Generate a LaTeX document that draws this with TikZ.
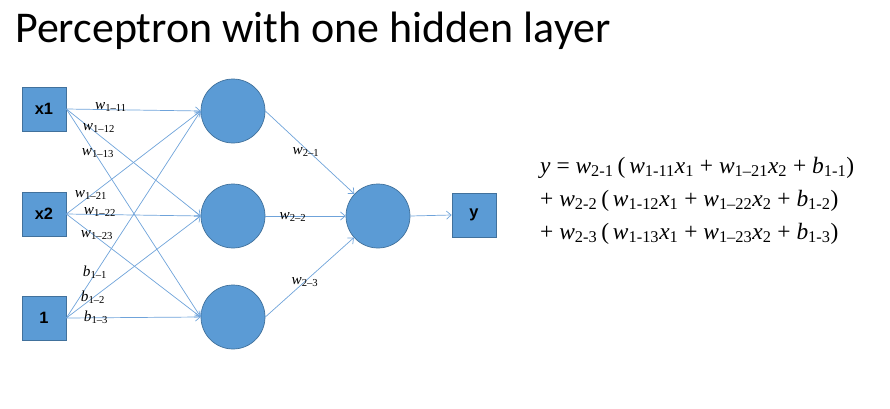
\documentclass[tikz,border=0pt]{standalone}
\usepackage{fontspec}
\setmainfont{Liberation Serif}
\newfontfamily\titlefont{Carlito}
\newfontfamily\boxfont{Liberation Sans}
\newfontfamily\eqfont{Liberation Serif}
\usepackage{tikz}
\usetikzlibrary{arrows.meta,shapes,calc}
\definecolor{nodeblue}{HTML}{5B9BD5}
\definecolor{rimblue}{HTML}{41719C}
\definecolor{lineblue}{HTML}{6FA3DA}
\newcommand{\wt}[2]{\textit{#1}\textsubscript{#2}}

\begin{document}
\begin{tikzpicture}[x=0.3mm,y=-0.3mm,
  inbox/.style={draw=rimblue,fill=nodeblue,semithick,minimum size=13.2mm,inner sep=0pt,font=\boxfont\bfseries\fontsize{14}{16}\selectfont},
  neuron/.style={circle,draw=rimblue,fill=nodeblue,semithick,minimum size=19.2mm,inner sep=0pt},
  link/.style={draw=lineblue,line width=0.6pt,-{Straight Barb[length=4pt,width=7pt]}},
  wlab/.style={inner sep=0pt,font=\eqfont\fontsize{13}{14}\selectfont},
  eqline/.style={anchor=base west,inner sep=0pt,font=\eqfont\fontsize{20}{22}\selectfont}]
\useasboundingbox (0,0) rectangle (890,409);

\node[anchor=base west,inner sep=0pt,font=\titlefont\fontsize{37.5}{40}\selectfont] (title) at (15,42) {Perceptron with one hidden layer};

% inputs
\node[inbox] (x1) at (44,109) {x1};
\node[inbox] (x2) at (44,214) {x2};
\node[inbox] (one) at (44,318) {1};

% hidden layer
\node[neuron] (h1) at (233,111) {};
\node[neuron] (h2) at (233,216) {};
\node[neuron] (h3) at (233,317) {};

% output
\node[neuron] (out) at (378,216) {};
\node[inbox] (y) at (474,215) {y};

\foreach \s in {x1,x2,one}
  \foreach \t in {h1,h2,h3}
    \draw[link] (\s.east) -- (\t.west);
\draw[link] (h1.east) -- (out);
\draw[link] (h2.east) -- (out.west);
\draw[link] (h3.east) -- (out);
\draw[link] (out.east) -- (y.west);

% weights
\node[wlab] (w111) at (111,107) {\wt{w}{1–11}};
\node[wlab] (w112) at (99,128) {\wt{w}{1–12}};
\node[wlab] (w113) at (98,153) {\wt{w}{1–13}};
\node[wlab] (w121) at (91,195) {\wt{w}{1–21}};
\node[wlab] (w122) at (100,212) {\wt{w}{1–22}};
\node[wlab] (w123) at (97,235) {\wt{w}{1–23}};
\node[wlab] (b11) at (95,272) {\wt{b}{1–1}};
\node[wlab] (b12) at (93,297) {\wt{b}{1–2}};
\node[wlab] (b13) at (96,317) {\wt{b}{1–3}};
\node[wlab] (w21) at (306,152) {\wt{w}{2–1}};
\node[wlab] (w22) at (293,217) {\wt{w}{2–2}};
\node[wlab] (w23) at (305,282) {\wt{w}{2–3}};

% formula
\node[eqline] (eq1) at (540,173) {\textit{y} = \wt{w}{2-1}\,(\,\wt{w}{1-11}\textit{x}\textsubscript{1} + \wt{w}{1–21}\textit{x}\textsubscript{2} + \wt{b}{1-1})};
\node[eqline] (eq2) at (540,206) {+ \wt{w}{2-2}\,(\,\wt{w}{1-12}\textit{x}\textsubscript{1} + \wt{w}{1–22}\textit{x}\textsubscript{2} + \wt{b}{1-2})};
\node[eqline] (eq3) at (540,239) {+ \wt{w}{2-3}\,(\,\wt{w}{1-13}\textit{x}\textsubscript{1} + \wt{w}{1–23}\textit{x}\textsubscript{2} + \wt{b}{1-3})};
\end{tikzpicture}
\end{document}
